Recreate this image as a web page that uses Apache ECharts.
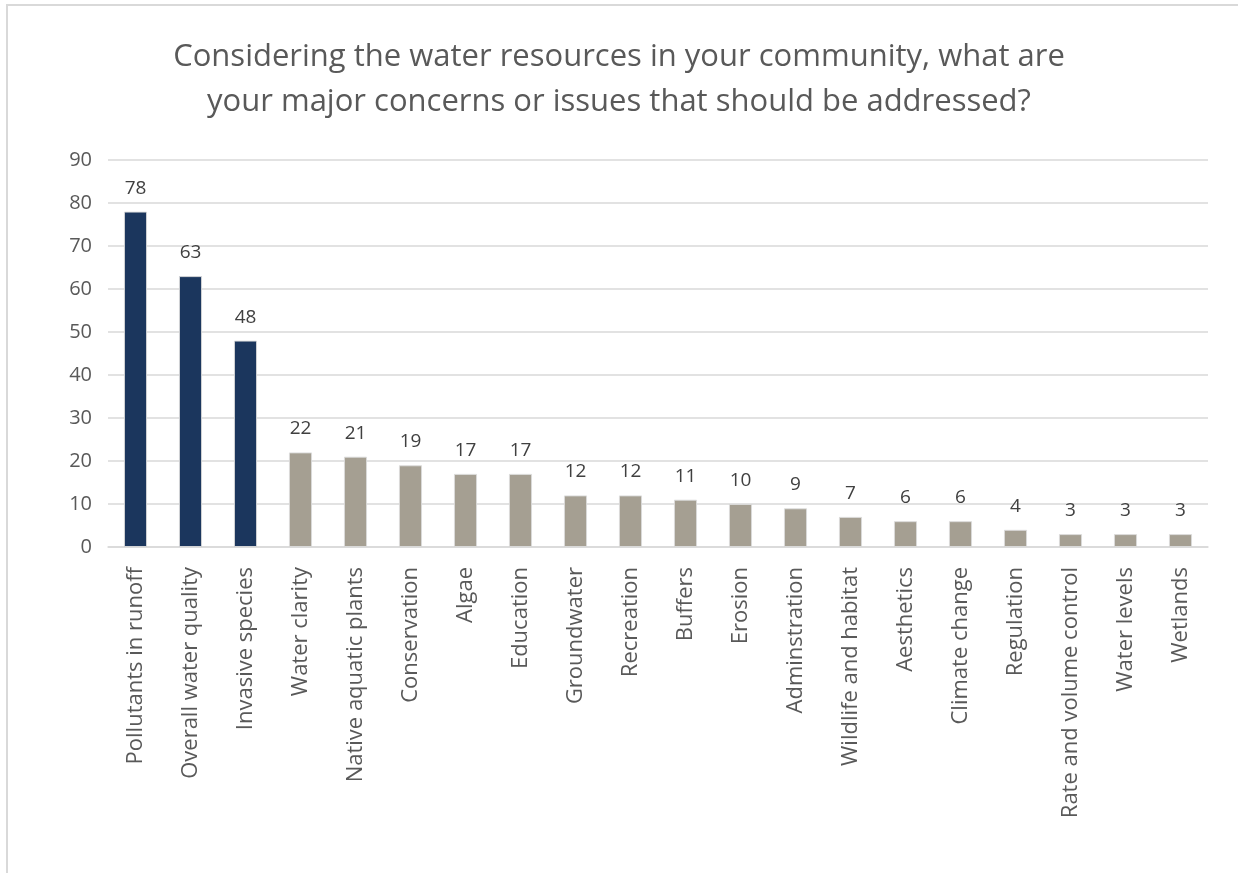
<!DOCTYPE html>
<html>
<head>
<meta charset="utf-8">
<script src="https://cdn.jsdelivr.net/npm/echarts@6/dist/echarts.min.js"></script>
<style>
  html, body { margin: 0; padding: 0; background: #fff; }
  #chart { width: 1238px; height: 873px; }
</style>
</head>
<body>
<div id="chart"></div>
<script>
// Survey responses: concerns about community water resources
const categories = [
  'Pollutants in runoff', 'Overall water quality', 'Invasive species',
  'Water clarity', 'Native aquatic plants', 'Conservation', 'Algae',
  'Education', 'Groundwater', 'Recreation', 'Buffers', 'Erosion',
  'Adminstration', 'Wildlife and habitat', 'Aesthetics', 'Climate change',
  'Regulation', 'Rate and volume control', 'Water levels', 'Wetlands'
];
const counts = [78, 63, 48, 22, 21, 19, 17, 17, 12, 12, 11, 10, 9, 7, 6, 6, 4, 3, 3, 3];
// Number of leading categories shown in the highlight colour
const highlightCount = 3;
const yTicks = { min: 0, max: 90, interval: 10 };

const NAVY = '#1B365D';
const TAUPE = '#A59F92';
const FONT = '"Open Sans", Lato, sans-serif';

const chart = echarts.init(document.getElementById('chart'), null, { renderer: 'canvas' });

chart.setOption({
  backgroundColor: '#ffffff',
  animation: false,
  title: {
    text: 'Considering the water resources in your community, what are\nyour major concerns or issues that should be addressed?',
    left: 'center',
    top: 30,
    textStyle: {
      fontFamily: FONT,
      fontSize: 31,
      fontWeight: 'normal',
      color: '#595959',
      lineHeight: 45
    }
  },
  graphic: [{
    type: 'rect',
    shape: { x: 7, y: 5, width: 1300, height: 1000 },
    style: { fill: 'none', stroke: '#d9d9d9', lineWidth: 2 },
    silent: true,
    z: -1
  }],
  grid: { left: 108, right: 30, top: 160, bottom: 326 },
  xAxis: {
    type: 'category',
    data: categories,
    axisLine: { lineStyle: { color: '#d9d9d9', width: 1.5 } },
    axisTick: { show: false },
    axisLabel: {
      rotate: 90,
      interval: 0,
      margin: 20,
      fontFamily: FONT,
      fontSize: 22,
      color: '#595959'
    }
  },
  yAxis: {
    type: 'value',
    min: yTicks.min,
    max: yTicks.max,
    interval: yTicks.interval,
    axisLine: { show: false },
    axisTick: { show: false },
    axisLabel: { margin: 16, fontFamily: FONT, fontSize: 20, color: '#595959' },
    splitLine: { lineStyle: { color: '#d9d9d9', width: 1.5 } }
  },
  series: [{
    type: 'bar',
    data: counts.map((v, i) => ({
      value: v,
      itemStyle: { color: i < highlightCount ? NAVY : TAUPE }
    })),
    barCategoryGap: '58%',
    itemStyle: { borderColor: 'rgba(220,220,220,0.9)', borderWidth: 1 },
    label: {
      show: true,
      position: 'top',
      distance: 14,
      fontFamily: FONT,
      fontSize: 19,
      color: '#404040'
    }
  }]
});
</script>
</body>
</html>
